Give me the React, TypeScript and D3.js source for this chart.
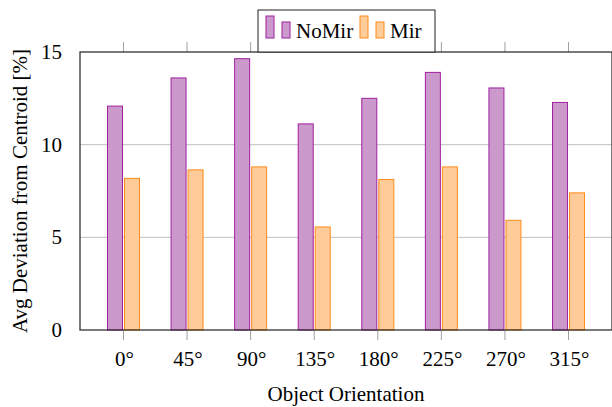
import React, { useEffect, useRef } from 'react';
import * as d3 from 'd3';

const categories = ['0°', '45°', '90°', '135°', '180°', '225°', '270°', '315°'];
const noMir = [12.08, 13.6, 14.64, 11.12, 12.5, 13.9, 13.06, 12.28];
const mir = [8.18, 8.64, 8.8, 5.56, 8.12, 8.8, 5.92, 7.4];
const yTicks = [0, 5, 10, 15];

const FONT = "'Liberation Serif', 'DejaVu Serif', 'Times New Roman', serif";

const App = () => {
  const ref = useRef<SVGSVGElement>(null);

  useEffect(() => {
    const svg = d3.select(ref.current);
    svg.selectAll('*').remove();
    const left = 80, right = 612, top = 52, bottom = 330;

    const x = d3.scalePoint().domain(categories).range([left, right]).padding(0.684);
    const y = d3.scaleLinear().domain([0, 15]).range([bottom, top]);
    const barW = 15, gap = 2;

    const g = svg.append('g').style('font-family', FONT);

    // grid
    g.selectAll('line.grid').data(yTicks.filter(t => t > 0 && t < 15)).enter()
      .append('line')
      .attr('x1', left).attr('x2', right)
      .attr('y1', d => y(d)).attr('y2', d => y(d))
      .attr('stroke', '#c0c0c0').attr('stroke-width', 1);

    // x ticks
    categories.forEach(c => {
      const cx = x(c)!;
      g.append('line').attr('x1', cx).attr('x2', cx).attr('y1', bottom).attr('y2', bottom + 10)
        .attr('stroke', '#a0a0a0');
      g.append('line').attr('x1', cx).attr('x2', cx).attr('y1', top).attr('y2', top - 10)
        .attr('stroke', '#a0a0a0');
    });

    // bars
    const series = [
      { values: noMir, fill: '#cc99cc', stroke: '#a020a0', off: -gap / 2 - barW },
      { values: mir, fill: '#ffcc99', stroke: '#ff8c1a', off: gap / 2 },
    ];
    series.forEach(s => {
      g.selectAll(null).data(s.values).enter().append('rect')
        .attr('x', (d, i) => x(categories[i])! + s.off)
        .attr('y', d => y(d))
        .attr('width', barW)
        .attr('height', d => bottom - y(d))
        .attr('fill', s.fill)
        .attr('stroke', s.stroke)
        .attr('stroke-width', 1);
    });

    // frame
    g.append('rect').attr('x', left).attr('y', top).attr('width', right - left).attr('height', bottom - top)
      .attr('fill', 'none').attr('stroke', '#222').attr('stroke-width', 1.2);

    // tick labels
    g.selectAll('text.xt').data(categories).enter().append('text')
      .attr('x', d => x(d)! + 1)
      .attr('y', 366)
      .attr('text-anchor', 'middle')
      .attr('font-size', 21)
      .text(d => d);

    g.selectAll('text.yt').data(yTicks).enter().append('text')
      .attr('x', 62).attr('y', d => y(d) + 7)
      .attr('text-anchor', 'end')
      .attr('font-size', 21)
      .text(d => d);

    // axis titles
    g.append('text').attr('x', 346).attr('y', 401).attr('text-anchor', 'middle')
      .attr('font-size', 21).text('Object Orientation');
    g.append('text').attr('transform', `translate(27,${(top + bottom) / 2}) rotate(-90)`)
      .attr('text-anchor', 'middle')
      .attr('font-size', 21).text('Avg Deviation from Centroid [%]');

    // legend
    const lg = g.append('g');
    lg.append('rect').attr('x', 258).attr('y', 10).attr('width', 177).attr('height', 42)
      .attr('fill', 'white').attr('stroke', '#222').attr('stroke-width', 1);
    const items = [
      { label: 'NoMir', fill: '#cc99cc', stroke: '#a020a0', x0: 266 },
      { label: 'Mir', fill: '#ffcc99', stroke: '#ff8c1a', x0: 360 },
    ];
    items.forEach(it => {
      lg.append('rect').attr('x', it.x0).attr('y', 16).attr('width', 8).attr('height', 22)
        .attr('fill', it.fill).attr('stroke', it.stroke);
      lg.append('rect').attr('x', it.x0 + 16).attr('y', 22).attr('width', 8).attr('height', 16)
        .attr('fill', it.fill).attr('stroke', it.stroke);
      lg.append('text').attr('x', it.x0 + 30).attr('y', 38)
        .attr('font-size', 21).text(it.label);
    });
  }, []);

  return (
    <svg ref={ref} width={612} height={407}
      style={{ position: 'absolute', left: 0, top: 0, background: 'white' }} />
  );
};

export default App;
